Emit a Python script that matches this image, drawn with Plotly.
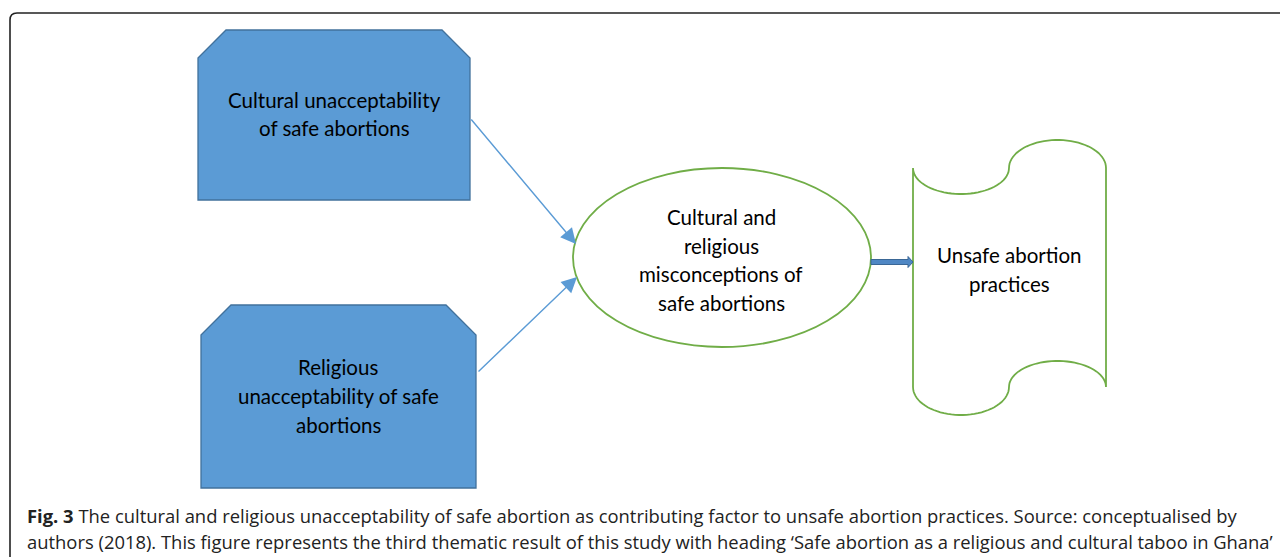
import numpy as np
import plotly.graph_objects as go

# ---- diagram content ----
box_labels = [["Cultural unacceptability", "of safe abortions"],
              ["Religious", "unacceptability of safe", "abortions"]]
center_label = ["Cultural and", "religious", "misconceptions of", "safe abortions"]
outcome_label = ["Unsafe abortion", "practices"]
caption_lines = [
    "<b>Fig. 3</b> The cultural and religious unacceptability of safe abortion as contributing factor to unsafe abortion practices. Source: conceptualised by",
    "authors (2018). This figure represents the third thematic result of this study with heading \u2018Safe abortion as a religious and cultural taboo in Ghana\u2019",
]

# geometry of nodes (page pixels)
boxes = [dict(x0=198, x1=470, y0=30, y1=200, cut=28, tx=334, ty=[100, 128]),
         dict(x0=201, x1=476, y0=305, y1=488, cut=30, tx=338, ty=[367, 396, 425])]
ell = dict(x0=573, x1=871, y0=168, y1=347, tx=721, ty=[217, 246, 274, 303])
scroll = dict(L=913, M=1009, R=1106, T=168, B=387, tx=1009, ty=[255, 284])

PAGE_W, PAGE_H, OFF = 1288, 557, 8   # browser body margin offsets the plot by 8px
BLUE = "#5B9BD5"
BLUE_D = "#41719C"
GREEN = "#70AD47"
FONT = "Lato"

fig = go.Figure()
shapes = []
ann = []

# outer frame
shapes.append(dict(type="path",
                   path="M 10 570 L 10 20 Q 10 13 17 13 L 1300 13",
                   line=dict(color="#222222", width=1.6), layer="below"))

# cut-corner boxes
for b in boxes:
    c = b["cut"]
    p = (f"M {b['x0']} {b['y0']+c} L {b['x0']+c} {b['y0']} L {b['x1']-c} {b['y0']} "
         f"L {b['x1']} {b['y0']+c} L {b['x1']} {b['y1']} L {b['x0']} {b['y1']} Z")
    shapes.append(dict(type="path", path=p, fillcolor=BLUE,
                       line=dict(color=BLUE_D, width=1.3)))

# ellipse
shapes.append(dict(type="circle", x0=ell["x0"], x1=ell["x1"], y0=ell["y0"], y1=ell["y1"],
                   fillcolor="white", line=dict(color=GREEN, width=1.8)))

# scroll shape
s = scroll
t = np.linspace(0, np.pi, 40)
pts = []
cxl, rxl = (s["L"] + s["M"]) / 2, (s["M"] - s["L"]) / 2
cxr, rxr = (s["M"] + s["R"]) / 2, (s["R"] - s["M"]) / 2
pts += list(zip(cxl - rxl * np.cos(t), s["T"] + 26 * np.sin(t)))
pts += list(zip(cxr - rxr * np.cos(t), s["T"] - 28 * np.sin(t)))
pts.append((s["R"], s["B"]))
pts += list(zip(cxr + rxr * np.cos(t), s["B"] - 26 * np.sin(t)))
pts += list(zip(cxl + rxl * np.cos(t), s["B"] + 28 * np.sin(t)))
path = "M " + " L ".join(f"{x:.1f} {y:.1f}" for x, y in pts) + " Z"
shapes.append(dict(type="path", path=path, fillcolor="white",
                   line=dict(color=GREEN, width=1.8)))

# block arrow ellipse -> scroll
ym = 262
bp = (f"M {ell['x1']} {ym-2.5} L {s['L']-5} {ym-2.5} L {s['L']-5} {ym-5.5} L {s['L']} {ym} "
      f"L {s['L']-5} {ym+5.5} L {s['L']-5} {ym+2.5} L {ell['x1']} {ym+2.5} Z")
shapes.append(dict(type="path", path=bp, fillcolor="#4F87C4",
                   line=dict(color="#3A6796", width=1)))

# thin arrows boxes -> ellipse
arrows = [((470, 118), (576, 244)), ((477, 373), (577, 277))]
for (x0, y0), (x1, y1) in arrows:
    ann.append(dict(x=x1, y=y1, ax=x0, ay=y0, xref="x", yref="y", axref="x", ayref="y",
                    showarrow=True, arrowhead=2, arrowsize=2.2, arrowwidth=1.4,
                    arrowcolor=BLUE, text=""))

# texts
tfont = dict(family=FONT, size=20.5, color="black")
def add_lines(x, ys, lines):
    for y, line in zip(ys, lines):
        ann.append(dict(x=x, y=y, text=line, showarrow=False, font=tfont,
                        xref="x", yref="y", xanchor="center", yanchor="middle"))

for b, lab in zip(boxes, box_labels):
    add_lines(b["tx"], b["ty"], lab)
add_lines(ell["tx"], ell["ty"], center_label)
add_lines(s["tx"], s["ty"], outcome_label)

cfont = dict(family="Open Sans", size=18.4, color="#222222")
for i, line in enumerate(caption_lines):
    ann.append(dict(x=25, y=515 + 26 * i, text=line, showarrow=False, font=cfont,
                    xref="x", yref="y", xanchor="left", yanchor="middle", align="left"))

fig.update_layout(
    width=PAGE_W - OFF, height=PAGE_H - OFF, margin=dict(l=0, r=0, t=0, b=0),
    paper_bgcolor="white", plot_bgcolor="white",
    xaxis=dict(range=[OFF, PAGE_W], visible=False, fixedrange=True),
    yaxis=dict(range=[PAGE_H, OFF], visible=False, fixedrange=True),
    shapes=shapes, annotations=ann, showlegend=False,
)
fig.write_html("out.html")
